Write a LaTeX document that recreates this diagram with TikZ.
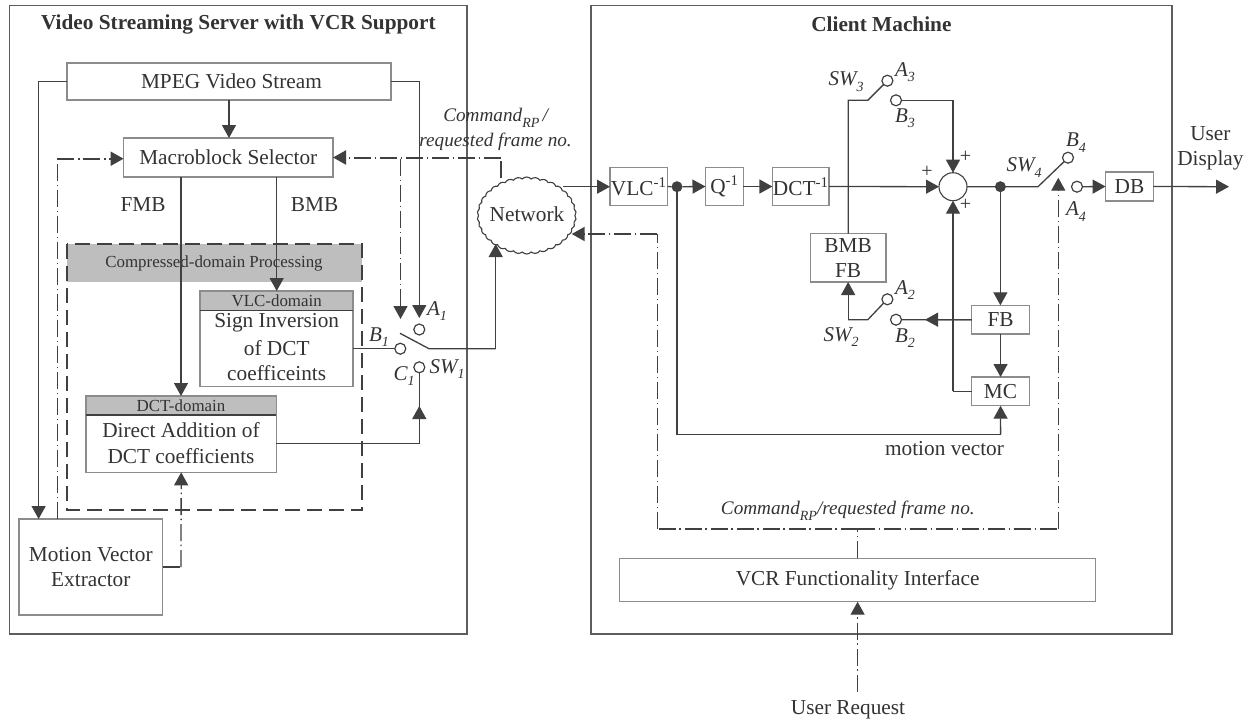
\documentclass[tikz,border=0pt]{standalone}
\usepackage{fontspec}
\setmainfont{Liberation Serif}
\usetikzlibrary{arrows.meta,shapes.symbols,calc}
\definecolor{ln}{HTML}{404040}
\definecolor{bd}{HTML}{8C8C8C}
\definecolor{tx}{HTML}{333333}
\definecolor{band}{HTML}{BEBEBE}
\newcommand{\fs}[1]{\fontsize{#1}{#1}\selectfont}
\newcommand{\subx}[1]{\raisebox{-5.5pt}{\fs{14}\itshape #1}}
\newcommand{\bxn}[7][boxn]{\node[#1,minimum width={#5-#3},minimum height={#6-#4}] (#2) at ({(#3+#5)/2},{(#4+#6)/2}) {#7};}
\tikzset{
 every node/.style={text=tx,font=\fs{21.3},inner sep=0pt,outer sep=0pt},
 boxn/.style={draw=bd,line width=1.1pt,fill=white,align=center},
 outerbox/.style={draw=ln!85!white,line width=1.5pt},
 lab/.style={font=\fs{21}\itshape},
 cmdlab/.style={font=\fs{19.2}\itshape},
 small/.style={font=\fs{16.9}},
 conn/.style={draw=ln,line width=1.3pt},
 arr/.style={conn,-{Triangle[length=13pt,width=14pt]}},
 dd/.style={draw=ln,line width=1.3pt,dash pattern=on 17pt off 4pt on 1.5pt off 3.5pt},
 ddarr/.style={dd,-{Triangle[length=13pt,width=14pt]}},
 ddthick/.style={line width=2pt},
 ctc/.style={draw=ln,line width=1.2pt,fill=white,circle,minimum size=11pt},
 jd/.style={fill=ln,circle,minimum size=11pt},
 plus/.style={font=\fs{20}},
}
\begin{document}
\begin{tikzpicture}[x=1pt,y=-1pt]
\useasboundingbox (0,0) rectangle (1258,724);
% outer frames
\bxn[outerbox]{server}{9.5}{5.5}{467}{634}{}
\bxn[outerbox]{client}{591}{5.5}{1172}{634}{}
\node[font=\fs{21.3}\bfseries] (servertitle) at (238.4,24.5) {Video Streaming Server with VCR Support};
\node[font=\fs{21.3}\bfseries] (clienttitle) at (881.4,24.5) {Client Machine};
% compressed-domain
\fill[band] (67,244.3) rectangle (362.4,282);
\node[small] (cdp) at (214,263) {Compressed-domain Processing};
\draw[draw=ln,line width=2pt,dash pattern=on 15pt off 7pt] (67,244.3) rectangle (362.4,510.3);
% server blocks
\bxn{mpeg}{67}{63}{391}{100}{\hspace*{5pt}MPEG Video Stream}
\bxn{ms}{123.6}{138}{333}{177}{Macroblock Selector}
\bxn{vlcd}{200}{291}{353}{386.3}{}
\fill[band] (vlcd.north west) rectangle (353,310.3);
\draw[draw=bd,line width=1.1pt] (vlcd.north west) rectangle (vlcd.south east);
\draw[draw=ln,line width=1.1pt] (200,310.3) -- (353,310.3);
\node[small] (vlcdt) at (276.7,301) {VLC-domain};
\node (vlct1) at (276.7,323) {Sign Inversion};
\node (vlct2) at (276.7,348) {of DCT};
\node (vlct3) at (276.7,373) {coefficeints};
\bxn{dctd}{86}{396}{276.4}{472.3}{}
\fill[band] (dctd.north west) rectangle (276.4,415);
\draw[draw=bd,line width=1.1pt] (dctd.north west) rectangle (dctd.south east);
\draw[draw=ln,line width=1.1pt] (86,415) -- (276.4,415);
\node[small] (dctdt) at (181,405.5) {DCT-domain};
\node (dctt1) at (181,430.5) {Direct Addition of};
\node (dctt2) at (181,456) {DCT coefficients};
\bxn{mve}{19}{519}{162.6}{615}{Motion Vector\\[4pt]Extractor}
\node (fmb) at (143,205) {FMB};
\node (bmb) at (314.6,205) {BMB};
% switch 1
\node[ctc] (a1) at (419.3,329.5) {};
\node[ctc] (b1) at (400.3,348.7) {};
\node[ctc] (c1) at (419.3,367.3) {};
\coordinate (p1) at (429,348.7);
\coordinate (p1t) at (400,333.3);
\coordinate (a1tip) at (419.3,318);
\node[lab] (a1l) at (437,311) {\textit{A}\subx{1}};
\node[lab] (b1l) at (379,337) {\textit{B}\subx{1}};
\node[lab] (c1l) at (404,376) {\textit{C}\subx{1}};
\node[lab] (sw1l) at (447,369) {\textit{SW}\subx{1}};
% network
\node[cloud,draw=ln,line width=1.1pt,fill=white,cloud puffs=34,cloud puff arc=95,minimum width=99pt,minimum height=77pt,aspect=1.25] (net) at (526.7,215.5) {};
\node (nett) at (527,214) {Network};
\node[cmdlab] (cmd1) at (495.6,118) {Command\subx{RP}\,/};
\node[cmdlab] (cmd2) at (495.6,141.7) {requested frame no.};
% client blocks
\bxn{vlc}{610}{167.3}{667.5}{205.7}{VLC\textsuperscript{-1}}
\bxn{q}{705.5}{167.3}{743.4}{205.7}{Q\textsuperscript{-1}}
\bxn{dct}{772.4}{167.3}{829}{205.7}{DCT\textsuperscript{-1}}
\bxn{bfb}{810.3}{233.7}{886}{282}{BMB\\[4pt]FB}
\bxn{fb}{971.8}{305.3}{1029.3}{334}{FB}
\bxn{mc}{971.8}{377}{1029.3}{405.7}{MC}
\bxn{db}{1105.6}{172}{1153.3}{201}{DB}
\bxn{vcr}{619.4}{558.3}{1095.8}{601.7}{VCR Functionality Interface}
\node[circle,draw=ln,line width=1.1pt,fill=white,minimum size=28pt] (sum) at (953,186.7) {};
\node[jd] (d1) at (677,186.7) {};
\node[jd] (d2) at (1000.4,186.7) {};
\node[ctc] (a3) at (887.4,80.7) {};
\node[ctc] (b3) at (896,100.3) {};
\node[ctc] (a2) at (887.4,299.3) {};
\node[ctc] (b2) at (896,319.7) {};
\node[ctc] (b4) at (1068,157.7) {};
\node[ctc] (a4) at (1077,186.7) {};
\node[plus] (pl1) at (965.4,157) {+};
\node[plus] (pl2) at (927,171.7) {+};
\node[plus] (pl3) at (965.4,205) {+};
\node[lab] (sw3l) at (846,81.7) {\textit{SW}\subx{3}};
\node[lab] (a3l) at (905,72) {\textit{A}\subx{3}};
\node[lab] (b3l) at (905,118) {\textit{B}\subx{3}};
\node[lab] (a2l) at (905,290) {\textit{A}\subx{2}};
\node[lab] (b2l) at (905,338) {\textit{B}\subx{2}};
\node[lab] (sw2l) at (841,337) {\textit{SW}\subx{2}};
\node[lab] (sw4l) at (1024,167.3) {\textit{SW}\subx{4}};
\node[lab] (b4l) at (1076,142.7) {\textit{B}\subx{4}};
\node[lab] (a4l) at (1076,211.7) {\textit{A}\subx{4}};
\node (mvt) at (944.5,449) {motion vector};
\node[cmdlab] (cmd3) at (847.8,510.7) {Command\subx{RP}/requested frame no.};
\node (ur) at (848,710) {User Request};
\node[align=center] (ud) at (1210.4,148.5) {User\\[4pt]Display};
% named connector points
\coordinate (ml) at (38.6,81.7);
\coordinate (mr) at (419.3,81.7);
\coordinate (nb) at (495.7,244);
\coordinate (nt) at (501,178);
\coordinate (nr1) at (563,186.7);
\coordinate (nr2) at (571.7,234);
\coordinate (sw3c) at (867.8,100.3);
\coordinate (sw2c) at (867.8,319.7);
\coordinate (sw4c) at (1038,186.7);
\coordinate (ddc) at (857.6,529.3);
\coordinate (urs) at (857.6,691.7);
% server connectors
\draw[arr] (ml-|mpeg.west) -- (ml) -- (ml|-mve.north);
\draw[arr] (mr-|mpeg.east) -- (mr) -- (a1tip);
\draw[arr] (229,100) -- (229,138);
\draw[arr] (181,177) -- (181,396);
\draw[arr] (276.7,177) -- (276.7,291);
\draw[conn] (vlcd.east|-b1) -- (b1.west);
\draw[conn] (p1t) -- (p1) -- (p1-|nb);
\draw[arr] (p1-|nb) -- (nb);
\draw[conn] (dctd.east|-0,443.7) -- (a1|-0,443.7) -- (c1.south);
\draw[arr] (a1|-0,443.7) -- (a1|-0,406);
\draw[dd] (nt) -- (nt|-ms.east);
\draw[ddarr,ddthick] (nt|-ms.east) -- (ms.east);
\draw[ddarr] (400.5,158.7) -- (400.5,319);
\draw[dd] (57.4,519) -- (57.4,158.7);
\draw[ddarr,ddthick] (57.4,158.7) -- (ms.west|-0,158.7);
\draw[dd,ddthick] (mve.east|-0,567) -- (181,567);
\draw[ddarr] (181,567) -- (dctd.south);
% client connectors
\draw[arr] (nr1) -- (vlc.west|-nr1);
\draw[arr] (d1.east) -- (q.west);
\draw[conn] (vlc.east) -- (d1.west);
\draw[arr] (q.east) -- (dct.west);
\draw[arr] (dct.east) -- (sum.west);
\draw[conn] (bfb.north) -- (sw3c-|bfb.north) -- (sw3c) -- (a3.south west);
\draw[conn] (b3.east) -- (b3-|sum.north);
\draw[arr] (b3-|sum.north) -- (sum.north);
\draw[conn] (sum.east) -- (sw4c) -- (b4.south west);
\draw[arr] (d2.south) -- (fb.north-|d2.south);
\draw[arr] (fb.south) -- (mc.north);
\draw[conn] (fb.west) -- (b2.east);
\draw[arr] (fb.west) -- (925,319.7);
\draw[conn] (a2.south west) -- (sw2c) -- (sw2c-|bfb.south);
\draw[arr] (sw2c-|bfb.south) -- (bfb.south);
\draw[conn] (mc.west) -- (mc.west-|sum.south);
\draw[arr] (mc.west-|sum.south) -- (sum.south);
\draw[conn] (d1.south) -- (677,434.3) -- (1000.6,434.3);
\draw[arr] (1000.6,434.3) -- (mc.south);
\draw[arr] (a4.east) -- (db.west);
\draw[arr] (db.east) -- (1229,186.7);
% control loop
\draw[dd,ddthick] (ddc) -- (657.3,529.3);
\draw[dd] (657.3,529.3) -- (657.3,234);
\draw[ddarr,ddthick] (657.3,234) -- (nr2);
\draw[dd,ddthick] (ddc) -- (1058.3,529.3);
\draw[ddarr] (1058.3,529.3) -- (1058.3,177.7);
\draw[dd] (vcr.north-|ddc) -- (ddc);
\draw[ddarr] (urs) -- (ddc|-vcr.south);
\end{tikzpicture}
\end{document}
